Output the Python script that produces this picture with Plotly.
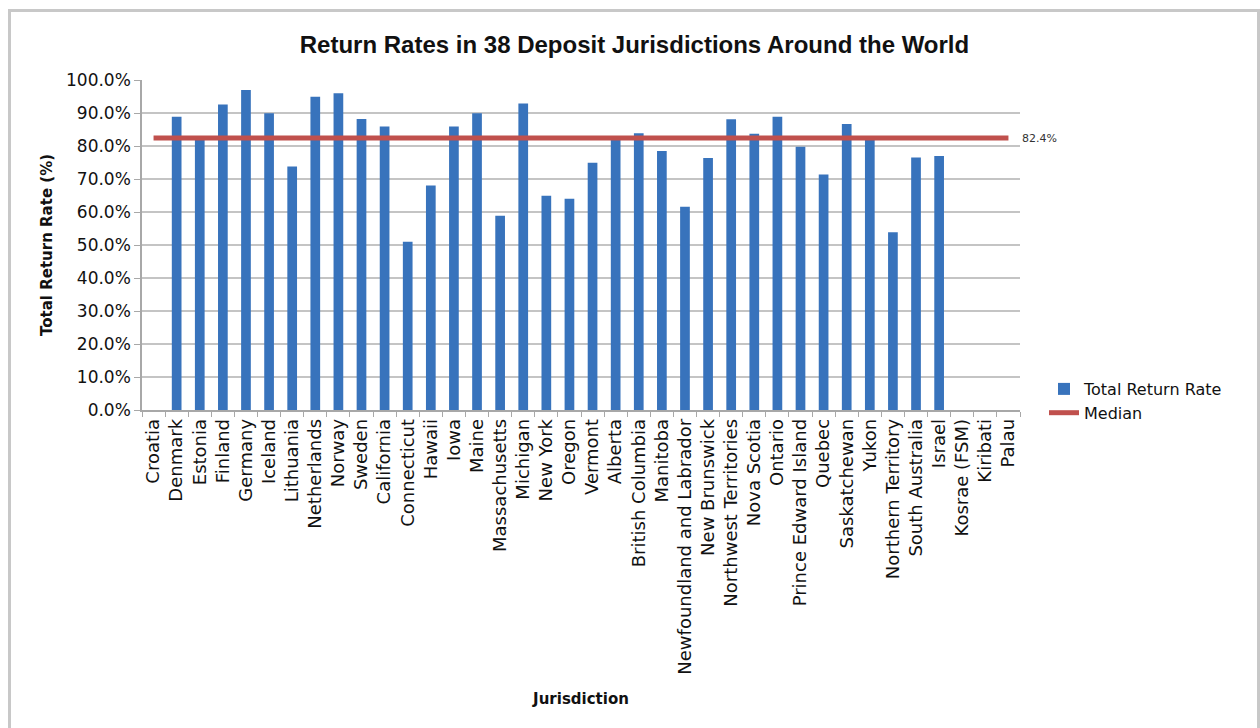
import plotly.graph_objects as go

jurisdictions = [
    "Croatia", "Denmark", "Estonia", "Finland", "Germany", "Iceland", "Lithuania",
    "Netherlands", "Norway", "Sweden", "California", "Connecticut", "Hawaii", "Iowa",
    "Maine", "Massachusetts", "Michigan", "New York", "Oregon", "Vermont", "Alberta",
    "British Columbia", "Manitoba", "Newfoundland and Labrador", "New Brunswick",
    "Northwest Territories", "Nova Scotia", "Ontario", "Prince Edward Island", "Quebec",
    "Saskatchewan", "Yukon", "Northern Territory", "South Australia", "Israel",
    "Kosrae (FSM)", "Kiribati", "Palau",
]
return_rates = [
    None, 88.9, 82.0, 92.6, 97.0, 89.9, 73.8,
    94.9, 96.0, 88.2, 85.9, 51.0, 68.0, 85.9,
    89.9, 58.9, 92.9, 64.9, 64.0, 74.9, 82.0,
    83.9, 78.5, 61.6, 76.4,
    88.1, 83.7, 88.9, 79.8, 71.4,
    86.7, 82.3, 53.9, 76.5, 77.0,
    None, None, None,
]
median_value = 82.4
median_label = "82.4%"
y_tick_values = [0, 10, 20, 30, 40, 50, 60, 70, 80, 90, 100]
y_tick_labels = ["0.0%", "10.0%", "20.0%", "30.0%", "40.0%", "50.0%", "60.0%",
                 "70.0%", "80.0%", "90.0%", "100.0%"]

TXT = "DejaVu Sans, Noto Sans, sans-serif"

fig = go.Figure()
fig.add_trace(go.Bar(
    x=jurisdictions, y=return_rates, name="Total Return Rate",
    marker=dict(color="#3873BC", line=dict(width=0)),
))
fig.add_trace(go.Scatter(
    x=jurisdictions, y=[median_value] * len(jurisdictions), name="Median",
    mode="lines", line=dict(color="#C0504D", width=5),
))

L, R, T, B = 142, 240, 80, 318
PW, PH = 1260 - L - R, 728 - T - B

def px_x(p):
    return (p - L) / PW

def px_y(p):
    return 1 - (p - T) / PH

fig.add_shape(type="rect", xref="paper", yref="paper",
              x0=px_x(9.5), x1=px_x(1258.5), y0=px_y(760), y1=px_y(10.5),
              line=dict(color="#C8C8C8", width=3), fillcolor="rgba(0,0,0,0)", layer="below")

fig.add_annotation(x=1, xref="paper", xshift=0, y=median_value, yref="y",
                   text=median_label, showarrow=False, xanchor="left",
                   font=dict(family=TXT, size=11, color="#333333"))

fig.update_layout(
    width=1260, height=728,
    margin=dict(l=L, r=R, t=T, b=B),
    paper_bgcolor="white", plot_bgcolor="white",
    title=dict(text="<b>Return Rates in 38 Deposit Jurisdictions Around the World</b>",
               x=(303 + 966) / 2 / 1260, xanchor="center", y=1 - 45 / 728, yanchor="middle",
               font=dict(family="Liberation Sans, Arial, sans-serif", size=24, color="#111111")),
    bargap=0.58,
    showlegend=True,
    legend=dict(x=px_x(1044), xanchor="left", y=px_y(372), yanchor="top",
                font=dict(family=TXT, size=16, color="#111111"),
                bgcolor="rgba(0,0,0,0)", tracegroupgap=4, itemwidth=30),
    xaxis=dict(
        title=dict(text="<b>Jurisdiction</b>", font=dict(family=TXT, size=15, color="#111111"), standoff=20),
        tickangle=-90, tickfont=dict(family=TXT, size=18, color="#111111"),
        showline=True, linecolor="#A8A8A8", linewidth=1.5,
        ticks="outside", tickson="boundaries", ticklen=5, tickcolor="#A8A8A8",
        showgrid=False,
    ),
    yaxis=dict(
        title=dict(text="<b>Total Return Rate (%)</b>", font=dict(family=TXT, size=15, color="#111111"), standoff=10),
        range=[0, 100], tickvals=y_tick_values, ticktext=y_tick_labels,
        tickfont=dict(family=TXT, size=17, color="#111111"),
        showline=True, linecolor="#A8A8A8", linewidth=1.5,
        ticks="outside", ticklen=6, tickcolor="#A8A8A8",
        showgrid=True, gridcolor="#C4C4C4", gridwidth=1.5, zeroline=False,
    ),
)

fig.write_html("out.html")
